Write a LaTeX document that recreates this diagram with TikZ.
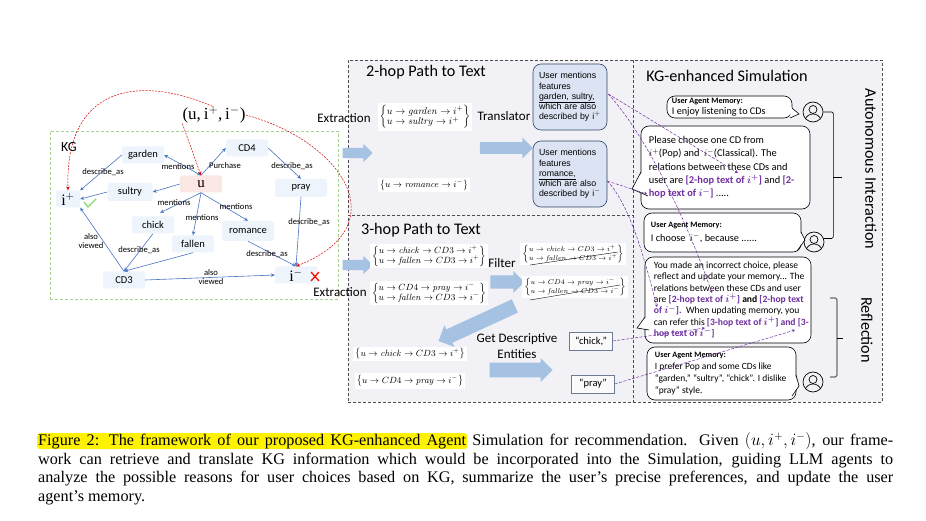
\documentclass[tikz,border=0pt]{standalone}
\usepackage[no-math]{fontspec}
\usepackage{amsmath,amssymb}
\setmainfont{Carlito}
\newfontfamily\capfont[Ligatures=TeX]{Liberation Serif}
\newfontfamily\boxfont[Ligatures=TeX]{Liberation Sans}
\usepackage{tikz}
\usetikzlibrary{shapes.arrows,arrows.meta,positioning,calc}
\definecolor{panelgray}{HTML}{F2F2F6}
\definecolor{kgblue}{HTML}{4A74C4}
\definecolor{kgfill}{HTML}{EDF4FB}
\definecolor{kgpink}{HTML}{FBE7E3}
\definecolor{kggreen}{HTML}{A9D18E}
\definecolor{bigblue}{HTML}{A5C2E3}
\definecolor{boxblue}{HTML}{DCE4F3}
\definecolor{boxline}{HTML}{2F4468}
\definecolor{hoppurple}{HTML}{7030A0}
\newcommand{\hoptext}[1]{\textcolor{hoppurple}{\textbf{#1}}}
\newcommand{\fsz}[1]{\fontsize{#1}{#1}\selectfont}
\newcommand{\memhead}{{\bfseries\fsz{8.2}User Agent Memory:}}
\newcommand{\mempath}[2]{\left\{\begin{array}{@{}l@{}}#1\\#2\end{array}\right\}}

\begin{document}
\begin{tikzpicture}[
    x=1pt, y=-1pt,
    >=Stealth,
    kgnode/.style={rectangle, fill=kgfill, rounded corners=2pt, minimum width=42pt, minimum height=17pt, inner sep=0pt, font=\fsz{10.5}},
    itemnode/.style={kgnode, font=\capfont\fsz{16}},
    kgedge/.style={->, kgblue, line width=0.6pt, >={Stealth[length=4pt,width=3.5pt]}},
    kglabel/.style={inner sep=0pt, align=center, font=\fsz{8.6}\linespread{1.05}\selectfont},
    redline/.style={->, red!85!black, dashed, line width=0.5pt, dash pattern=on 2pt off 1.2pt, >={Stealth[length=4pt,width=3.5pt]}},
    hopline/.style={->, hoppurple, dashed, line width=0.5pt, dash pattern=on 3pt off 1.5pt, >={Stealth[length=3pt,width=3pt]}},
    panel/.style={rectangle, anchor=north west, fill=panelgray, draw=black!70, densely dashed, line width=0.5pt, inner sep=0pt},
    title/.style={inner sep=0pt, font=\fsz{16.2}},
    oplabel/.style={inner sep=0pt, align=center, font=\fsz{13}},
    bigarrow/.style={single arrow, fill=bigblue, inner sep=0pt, single arrow head extend=4pt, text height=#1, text depth=0pt},
    pathbox/.style={fill=white, inner sep=2pt, font=\fsz{8.6}},
    userbox/.style={rectangle, draw=boxline, fill=boxblue, rounded corners=8pt, minimum width=74pt, minimum height=66pt, text width=62pt, align=left, inner sep=0pt, line width=0.6pt, font=\boxfont\fontsize{8.8}{10.2}\selectfont},
    entity/.style={rectangle, draw=boxline!70, fill=white!60!panelgray, minimum width=43pt, minimum height=18pt, inner sep=0pt, line width=0.5pt, font=\fsz{10.5}},
    bubble/.style={rectangle, draw=black, fill=white, rounded corners=8pt, inner sep=0pt, line width=0.6pt},
    bubbletext/.style={anchor=west, align=left, inner sep=0pt},
    tail/.style={fill=white},
    tailline/.style={draw=black, line width=0.6pt},
    person/.style={circle, draw=black, line width=0.7pt, minimum size=20pt, inner sep=0pt, path picture={
        \coordinate (pc) at (path picture bounding box.center);
        \draw[line width=0.7pt] ($(pc)+(0,-2.5)$) circle (4);
        \draw[line width=0.7pt] ($(pc)+(-8,8)$) .. controls ($(pc)+(-6,0)$) and ($(pc)+(6,0)$) .. ($(pc)+(8,8)$);
    }},
    brace/.style={draw=black, line width=0.6pt, rounded corners=1.5pt},
    sidetext/.style={inner sep=0pt, rotate=-90, font=\fsz{16.2}},
    capline/.style={inner sep=0pt, anchor=base west, font=\capfont\fsz{16.2}}
]
\fill[white] (0,0) rectangle (926,521);
\useasboundingbox (0,0) rectangle (926,521);

% Panels
\node[panel, minimum width=285pt, minimum height=155pt] (hoptwo) at (348,60) {};
\node[panel, minimum width=285pt, minimum height=187pt] (hopthree) at (348,215) {};
\node[panel, minimum width=249pt, minimum height=342pt] (simu) at (633,60) {};
\node[title] (hoptwotitle) at (426,72) {2-hop Path to Text};
\node[title] (hopthreetitle) at (421,230) {3-hop Path to Text};
\node[title] (simutitle) at (727,76) {KG-enhanced Simulation};

% KG
\node[rectangle, anchor=north west, draw=kggreen, densely dashed, line width=0.6pt, minimum width=288pt, minimum height=168pt, inner sep=0pt] (kgframe) at (50,131) {};
\node[inner sep=0pt, font=\fsz{14}] (kgtitle) at (69,147) {KG};
\node[inner sep=0pt, font=\capfont\fsz{17}] (triple) at (214,115) {(u,\,i$^{+}$,\,i$^{-}$)};
\node[kgnode] (garden) at (143,155) {garden};
\node[kgnode] (cdfour) at (247,148) {CD4};
\node[kgnode, fill=kgpink, font=\capfont\fsz{15}] (u) at (201,184) {u};
\node[kgnode, minimum width=45pt, minimum height=18pt] (sultry) at (130,192) {sultry};
\node[itemnode, minimum width=24pt] (ipos) at (68,199) {i$^{+}$};
\node[kgnode, minimum width=52pt, minimum height=18pt] (pray) at (301,188) {pray};
\node[kgnode] (chick) at (153,225) {chick};
\node[kgnode] (fallen) at (193,244) {fallen};
\node[kgnode, minimum width=52pt, minimum height=20pt] (romance) at (248,231) {romance};
\node[kgnode] (cdthree) at (124,280) {CD3};
\node[itemnode] (ineg) at (296,275) {i$^{-}$};
\draw[kggreen!80!green, line width=1.4pt] (84,202) -- (88,207) -- (96,199);
\draw[red!85!orange, line width=1.3pt] (311,272) -- (319,281) (319,272) -- (311,281);

\draw[kgedge] (garden.west) -- (ipos.north east);
\draw[kgedge, <->] (u.north) -- (garden.east);
\draw[kgedge] (u.north) -- (cdfour.west);
\draw[kgedge] (u.west) -- (sultry.east);
\draw[kgedge] (sultry.west) -- (ipos.east);
\draw[kgedge, shorten >=8pt] (u.south) -- (chick.north);
\draw[kgedge] (u.south) -- (fallen.north);
\draw[kgedge] (u.south) -- (romance.north);
\draw[kgedge] (cdfour.east) -- (pray.north);
\draw[kgedge] (pray.south) -- (ineg.north);
\draw[kgedge] (romance.south) -- (ineg.north);
\draw[kgedge] (chick.south) -- (cdthree.north);
\draw[kgedge] (fallen.south) -- (cdthree.north);
\draw[kgedge] (cdthree.north) -- (ipos.south east);
\draw[kgedge] (cdthree.east) -- (ineg.west);

\node[kglabel] (ldescga) at (103,172) {describe\_as};
\node[kglabel] (lmenga) at (178,167) {mentions};
\node[kglabel] (lpurch) at (225,166) {Purchase};
\node[kglabel] (ldescpr) at (292,166) {describe\_as};
\node[kglabel] (lmench) at (174,203) {mentions};
\node[kglabel] (lmenro) at (236,207) {mentions};
\node[kglabel] (lmenfa) at (202,218) {mentions};
\node[kglabel] (ldescin) at (309,222) {describe\_as};
\node[kglabel] (lalsoa) at (91,241) {also\\viewed};
\node[kglabel] (ldescch) at (139,250) {describe\_as};
\node[kglabel] (ldescro) at (267,254) {describe\_as};
\node[kglabel] (lalsob) at (211,277) {also\\viewed};

\draw[redline] (triple.100) .. controls (140,75) and (65,85) .. (ipos.north);
\draw[redline] (triple.south west) -- (u.north);
\draw[redline] (triple.east) .. controls (340,140) and (400,225) .. (ineg.north);

% 2-hop
\node[oplabel] (extra) at (344,118) {Extraction};
\node[oplabel] (extrb) at (340,292) {Extraction};
\node[bigarrow=10pt, minimum width=17pt, minimum height=30pt] (arrextra) at (355,153) {};
\node[bigarrow=10pt, minimum width=17pt, minimum height=30pt] (arrextrb) at (355,265) {};
\node[pathbox, font=\fsz{9.6}] (pgarden) at (425,117) {$\mempath{u\to \mathit{garden}\to i^{+}}{u\to \mathit{sultry}\to i^{+}}$};
\node[pathbox] (promance) at (424,185) {$\left\{u\to \mathit{romance}\to i^{-}\right\}$};
\node[oplabel] (transl) at (504,116) {Translator};
\node[bigarrow=10pt, minimum width=21pt, minimum height=53pt] (arrtransl) at (503.5,148) {};
\node[userbox] (userpos) at (570,97) {User mentions\\features\\\underline{garden, sultry,}\\which are also\\described by i$^{+}$};
\node[userbox] (userneg) at (570,174) {User mentions\\features\\\underline{romance,}\\which are also\\described by i$^{-}$};

% 3-hop
\node[pathbox] (pchick) at (429,256) {$\mempath{u\to \mathit{chick}\to CD3\to i^{+}}{u\to \mathit{fallen}\to CD3\to i^{+}}$};
\node[pathbox] (ppray) at (429,293) {$\mempath{u\to CD4\to \mathit{pray}\to i^{-}}{u\to \mathit{fallen}\to CD3\to i^{-}}$};
\node[oplabel] (filter) at (502,263) {Filter};
\node[bigarrow=12pt, minimum width=22pt, minimum height=34pt] (arrfilter) at (504,282) {};
\node[pathbox, font=\fsz{7.4}] (fchick) at (573,254) {$\mempath{u\to \mathit{chick}\to CD3\to i^{+}}{u\to \mathit{fallen}\to CD3\to i^{+}}$};
\node[pathbox, font=\fsz{7.4}] (fpray) at (575,287) {$\mempath{u\to CD4\to \mathit{pray}\to i^{-}}{u\to \mathit{fallen}\to CD3\to i^{-}}$};
\draw[black, line width=0.4pt] (530,265) -- (618,252);
\draw[black, line width=0.4pt] (530,300) -- (620,285);
\node[bigarrow=12pt, rotate=204.7, minimum width=24pt, minimum height=84pt] (arrdown) at (480,322) {};
\node[pathbox, font=\fsz{9}] (kchick) at (410,354) {$\left\{u\to \mathit{chick}\to CD3\to i^{+}\right\}$};
\node[pathbox, font=\fsz{9.2}] (kpray) at (410,381) {$\left\{u\to CD4\to \mathit{pray}\to i^{-}\right\}$};
\node[oplabel, font=\fontsize{13}{16}\selectfont] (getdesc) at (517,346) {Get Descriptive\\Entities};
\node[bigarrow=12pt, minimum width=24pt, minimum height=63pt] (arrget) at (517.5,370) {};
\node[entity] (echick) at (591,341) {``chick,''};
\node[entity] (epray) at (593,384) {``pray''};

% Simulation
\node[bubble, minimum width=125pt, minimum height=22pt] (memone) at (729.5,107) {};
\node[bubble, minimum width=169pt, minimum height=83pt] (askone) at (725.5,167.5) {};
\node[bubble, minimum width=157pt, minimum height=39pt] (memtwo) at (722.5,232.5) {};
\node[bubble, minimum width=166pt, minimum height=86pt] (asktwo) at (728,300) {};
\node[bubble, minimum width=149pt, minimum height=53pt] (memthree) at (721.5,373.5) {};

\fill[tail] (791,107) -- (799,114) -- (790,117) -- cycle;
\draw[tailline] (792,108) -- (799,114) -- (790,118);
\fill[tail] (642,172) -- (632,189) -- (648,195) -- cycle;
\draw[tailline] (641,172) -- (632,189) -- (648,196);
\fill[tail] (800,232) -- (805,240) -- (796,250) -- cycle;
\draw[tailline] (801,232) -- (805,240) -- (797,251);
\fill[tail] (646,317) -- (637,328) -- (649,330) -- cycle;
\draw[tailline] (645,317) -- (637,328) -- (649,330);
\fill[tail] (795,375) -- (799,386) -- (792,395) -- cycle;
\draw[tailline] (796,375) -- (799,386) -- (792,396);

\node[bubbletext, font=\fontsize{10.2}{11.5}\selectfont] (memonetext) at ($(memone.west)+(5,0)$) {\memhead\\I enjoy listening to CDs};
\node[bubbletext, font=\fontsize{10.4}{13.3}\selectfont] (askonetext) at ($(askone.west)+(8,0)$) {Please choose one CD from\\$i^{+}$(Pop) and\, $i^{-}$(Classical). The\\relations between these CDs and\\user are \hoptext{[2-hop text of $\boldsymbol{i^{+}}$]} and \hoptext{[2-}\\\hoptext{hop text of $\boldsymbol{i^{-}}$]} .....};
\node[bubbletext, font=\fontsize{10.3}{13.5}\selectfont] (memtwotext) at ($(memtwo.west)+(7,0)$) {\memhead\\I choose\, $i^{-}$, because ......};
\node[bubbletext, font=\fontsize{9.6}{11.3}\selectfont] (asktwotext) at ($(asktwo.west)+(9,0)$) {You made an incorrect choice, please\\reflect and update your memory... The\\relations between these CDs and user\\are \hoptext{[2-hop text of $\boldsymbol{i^{+}}$]} \textbf{and} \hoptext{[2-hop text}\\\hoptext{of $\boldsymbol{i^{-}}$].}\, When updating memory, you\\can refer this \hoptext{[3-hop text of $\boldsymbol{i^{+}}$] and [3-}\\\hoptext{hop text of $\boldsymbol{i^{-}}$]}};
\node[bubbletext, font=\fontsize{9.5}{11.8}\selectfont] (memthreetext) at ($(memthree.west)+(8,0)$) {\memhead\\I prefer Pop and some CDs like\\``garden,'' ``sultry'', ``chick''. I dislike\\``pray'' style.};

\node[person] (agentone) at (813,112) {};
\node[person] (agenttwo) at (814,242) {};
\node[person] (agentthree) at (813,382) {};

\draw[brace] (agentone.east) -- ++(10,0) |- (agenttwo.20);
\draw[brace] (833,177) -- (842,177);
\draw[brace] (830,298) -- (837,298) -- (837,377) -- (830,377);
\draw[brace] (837,338) -- (843,338);
\node[sidetext] (autotext) at (871,169) {Autonomous Interaction};
\node[sidetext] (refltext) at (867,330) {Reflection};

% Links into the prompts
\coordinate (toone) at (738,173);
\coordinate (totwo) at (712,293);
\coordinate (tothree) at (647,194);
\coordinate (tofour) at (657,307);
\coordinate (tofive) at (705,328);
\coordinate (tosix) at (795,330);
\draw[hopline] (userpos.east) ++(1,-3) -- (toone);
\draw[hopline] (userpos.east) ++(1,-3) .. controls (650,140) and (690,230) .. (totwo);
\draw[hopline] (userneg.east) ++(0,7) -- (tothree);
\draw[hopline] (userneg.east) ++(0,7) .. controls (630,205) and (645,260) .. (tofour);
\draw[hopline] (echick.east) -- (tofive);
\draw[hopline] (epray.east) -- (tosix);

% Caption
\node[rectangle, anchor=north west, fill=yellow, rounded corners=3pt, minimum width=430pt, minimum height=16pt, inner sep=0pt] (marker) at (37,433) {};
\node[capline] (capone) at (38,445.5) {\makebox[855pt][s]{Figure 2: The framework of our proposed KG-enhanced Agent Simulation for recommendation. Given $(u,i^{+},i^{-})$, our frame-}};
\node[capline] (captwo) at (38,464) {\makebox[855pt][s]{work can retrieve and translate KG information which would be incorporated into the Simulation, guiding LLM agents to}};
\node[capline] (capthree) at (38,482.5) {\makebox[855pt][s]{analyze the possible reasons for user choices based on KG, summarize the user’s precise preferences, and update the user}};
\node[capline] (capfour) at (38,501) {agent’s memory.};

\end{tikzpicture}
\end{document}
